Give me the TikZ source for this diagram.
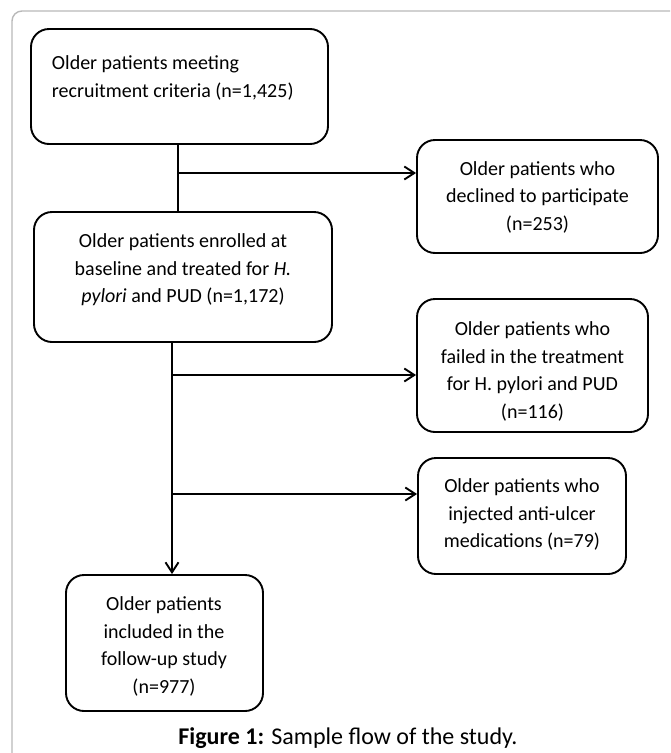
\documentclass[tikz,border=0pt]{standalone}
\usepackage{fontspec}
\setmainfont{Carlito}
\usetikzlibrary{arrows.meta}

\tikzset{
    stage/.style={draw, line width=1.9pt, rounded corners=18pt, inner sep=0pt},
    stagetext/.style={align=center, inner sep=0pt},
}

\begin{document}
\begin{tikzpicture}[x=1pt, y=-1pt, >={Straight Barb[length=10pt,width=13pt]}, line width=1.9pt]
    \fontsize{20}{27.5}\selectfont
    \useasboundingbox (0,0) rectangle (670,753);
    \clip (0,0) rectangle (670,753);

    % frame of the figure, open to the right and below
    \draw[gray!55, line width=1.4pt, rounded corners=10pt] (12,800) -- (12,11) -- (720,11);

    % boxes
    \node[stage, minimum width=297pt, minimum height=115pt] (recruit) at (179.5,86.5) {};
    \node[stage, minimum width=298pt, minimum height=130pt] (enrolled) at (183,277) {};
    \node[stage, minimum width=241pt, minimum height=113pt] (declined) at (537.5,196.5) {};
    \node[stage, minimum width=231pt, minimum height=133pt] (failed) at (532.5,365.5) {};
    \node[stage, minimum width=208pt, minimum height=116pt] (injected) at (522,516) {};
    \node[stage, minimum width=197pt, minimum height=136pt] (included) at (164.5,643) {};

    % texts
    \node[stagetext, align=left, anchor=west] (recruit-text) at (51,78)
        {Older patients meeting\\recruitment criteria (n=1,425)};
    \node[stagetext] (enrolled-text) at (183,270)
        {Older patients enrolled at\\baseline and treated for \textit{H.}\\\textit{pylori} and PUD (n=1,172)};
    \node[stagetext] (declined-text) at (537.5,197)
        {Older patients who\\declined to participate\\(n=253)};
    \node[stagetext] (failed-text) at (532.5,371.5)
        {Older patients who\\failed in the treatment\\for H. pylori and PUD\\(n=116)};
    \node[stagetext] (injected-text) at (522,514.5)
        {Older patients who\\injected anti-ulcer\\medications (n=79)};
    \node[stagetext] (included-text) at (164,646.5)
        {Older patients\\included in the\\follow-up study\\(n=977)};

    % connectors
    \coordinate (split1) at (178,173);
    \coordinate (stem) at (172,0);
    \coordinate (split2) at (172,375);
    \coordinate (split3) at (172,494);
    \draw (recruit.south -| split1) -- (enrolled.north -| split1);
    \draw[->] (split1) -- (split1 -| declined.west);
    \draw[->] (enrolled.south -| stem) -- (included.north -| stem);
    \draw[->] (split2) -- (split2 -| failed.west);
    \draw[->] (split3) -- (split3 -| injected.west);

    % caption
    \node[anchor=base] (caption) at (348,744)
        {\fontsize{24}{28}\selectfont\textbf{Figure 1:} Sample flow of the study.};
\end{tikzpicture}
\end{document}
